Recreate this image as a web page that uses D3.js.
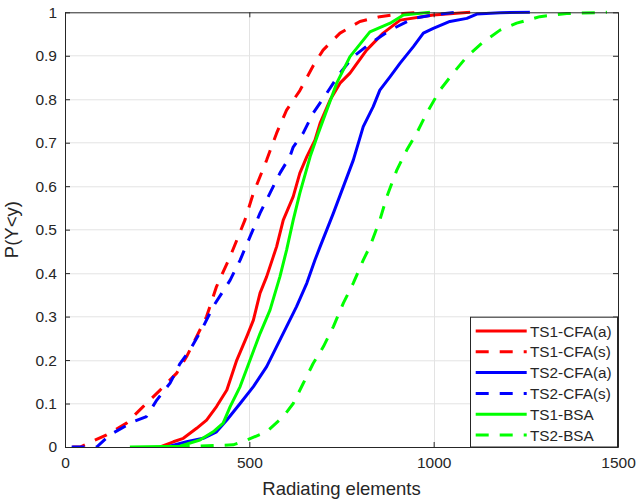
<!DOCTYPE html>
<html>
<head>
<meta charset="utf-8">
<script src="https://cdn.jsdelivr.net/npm/d3@7/dist/d3.min.js"></script>
<style>
  body { margin: 0; background: #fff; }
  svg { display: block; }
  text { font-family: "Liberation Sans", Arial, Helvetica, sans-serif; fill: #262626; }
</style>
</head>
<body>
<svg id="chart" width="636" height="500"></svg>
<script>
// ---------- data ----------
const xTicks = [0, 500, 1000, 1500];
const yTicks = [0, 0.1, 0.2, 0.3, 0.4, 0.5, 0.6, 0.7, 0.8, 0.9, 1];
const yTickLabels = ["0", "0.1", "0.2", "0.3", "0.4", "0.5", "0.6", "0.7", "0.8", "0.9", "1"];
const xLabel = "Radiating elements";
const yLabel = "P(Y<y)";

const seriesNames = ["TS1-CFA(a)", "TS1-CFA(s)", "TS2-CFA(a)", "TS2-CFA(s)", "TS1-BSA", "TS2-BSA"];
const seriesColors = ["#ff0000", "#ff0000", "#0000ff", "#0000ff", "#00ff00", "#00ff00"];
const seriesDashed = [false, true, false, true, false, true];

const ts1CfaA_x = [258, 294, 321, 357, 384, 411, 439, 466, 493, 511, 529, 547, 565, 574, 592, 619, 637, 656, 678, 692, 719, 746, 773, 818, 863, 909, 999, 1099];
const ts1CfaA_y = [0, 0.012, 0.02, 0.043, 0.062, 0.093, 0.131, 0.2, 0.254, 0.292, 0.354, 0.392, 0.438, 0.461, 0.522, 0.576, 0.63, 0.668, 0.706, 0.745, 0.798, 0.837, 0.86, 0.913, 0.952, 0.982, 0.994, 1.0];

const ts1CfaS_x = [20, 41, 113, 167, 212, 258, 303, 330, 357, 384, 411, 448, 488, 511, 547, 574, 601, 637, 674, 700, 746, 800, 854, 917, 960];
const ts1CfaS_y = [0, 0, 0.028, 0.055, 0.093, 0.131, 0.17, 0.208, 0.254, 0.30, 0.369, 0.438, 0.522, 0.584, 0.66, 0.722, 0.775, 0.82, 0.878, 0.913, 0.952, 0.979, 0.99, 0.997, 1.0];

const ts2CfaA_x = [276, 330, 375, 411, 439, 475, 511, 547, 574, 601, 628, 656, 678, 692, 728, 755, 782, 809, 836, 854, 882, 909, 945, 972, 999, 1044, 1090, 1117, 1180, 1261];
const ts2CfaA_y = [0, 0.012, 0.02, 0.035, 0.062, 0.1, 0.139, 0.185, 0.231, 0.277, 0.323, 0.377, 0.43, 0.461, 0.538, 0.599, 0.66, 0.737, 0.783, 0.821, 0.852, 0.883, 0.921, 0.952, 0.963, 0.979, 0.986, 0.996, 0.999, 1.0];

const ts2CfaS_x = [18, 86, 122, 185, 221, 249, 285, 312, 339, 375, 402, 448, 475, 502, 529, 556, 583, 610, 619, 646, 673, 710, 746, 782, 827, 882, 945, 999, 1060];
const ts2CfaS_y = [0, 0, 0.028, 0.058, 0.07, 0.108, 0.147, 0.192, 0.223, 0.277, 0.323, 0.384, 0.43, 0.484, 0.538, 0.584, 0.63, 0.668, 0.69, 0.722, 0.768, 0.814, 0.86, 0.898, 0.928, 0.959, 0.986, 0.994, 1.0];

const ts1Bsa_x = [176, 312, 366, 402, 429, 448, 475, 502, 529, 556, 583, 601, 619, 637, 665, 687, 710, 737, 773, 827, 882, 918, 990];
const ts1Bsa_y = [0, 0.002, 0.016, 0.035, 0.055, 0.093, 0.139, 0.2, 0.261, 0.315, 0.392, 0.453, 0.522, 0.584, 0.668, 0.722, 0.775, 0.837, 0.898, 0.955, 0.975, 0.994, 1.0];

const ts2Bsa_x = [303, 456, 493, 547, 592, 619, 646, 673, 701, 728, 755, 782, 809, 827, 854, 873, 900, 927, 954, 981, 1017, 1053, 1090, 1135, 1180, 1225, 1288, 1361, 1470];
const ts2Bsa_y = [0, 0.005, 0.016, 0.035, 0.07, 0.1, 0.146, 0.192, 0.231, 0.277, 0.331, 0.377, 0.43, 0.461, 0.522, 0.576, 0.637, 0.683, 0.722, 0.768, 0.821, 0.86, 0.898, 0.932, 0.959, 0.975, 0.99, 0.997, 1.0];

const seriesX = [ts1CfaA_x, ts1CfaS_x, ts2CfaA_x, ts2CfaS_x, ts1Bsa_x, ts2Bsa_x];
const seriesY = [ts1CfaA_y, ts1CfaS_y, ts2CfaA_y, ts2CfaS_y, ts1Bsa_y, ts2Bsa_y];

// ---------- layout ----------
const W = 636, H = 500;
const margin = { left: 65, top: 12.3, right: 636 - 618, bottom: 500 - 447 };
const pw = W - margin.left - margin.right;
const ph = H - margin.top - margin.bottom;
const axisColor = "#262626";
const dash = "13,11";

const svg = d3.select("#chart");
const g = svg.append("g").attr("transform", `translate(${margin.left},${margin.top})`);

const x = d3.scaleLinear().domain([0, 1500]).range([0, pw]);
const y = d3.scaleLinear().domain([0, 1]).range([ph, 0]);

// background
g.append("rect").attr("width", pw).attr("height", ph).attr("fill", "#fff");

// grid
g.append("g").selectAll("line").data(yTicks.slice(1, -1)).join("line")
  .attr("x1", 0).attr("x2", pw)
  .attr("y1", d => Math.round(y(d)) + 0.5).attr("y2", d => Math.round(y(d)) + 0.5)
  .attr("stroke", "#e3e3e3").attr("stroke-width", 1);
g.append("g").selectAll("line").data(xTicks.slice(1, -1)).join("line")
  .attr("y1", 0).attr("y2", ph)
  .attr("x1", d => Math.round(x(d)) + 0.5).attr("x2", d => Math.round(x(d)) + 0.5)
  .attr("stroke", "#e3e3e3").attr("stroke-width", 1);

// clip
svg.append("defs").append("clipPath").attr("id", "clip")
  .append("rect").attr("x", 0).attr("y", -2).attr("width", pw).attr("height", ph + 2);

const line = d3.line().x(d => x(d[0])).y(d => y(d[1]));
const curves = g.append("g").attr("clip-path", "url(#clip)");
seriesNames.forEach((name, i) => {
  const pts = seriesX[i].map((v, k) => [v, seriesY[i][k]]);
  curves.append("path")
    .datum(pts)
    .attr("d", line)
    .attr("fill", "none")
    .attr("stroke", seriesColors[i])
    .attr("stroke-width", 3)
    .attr("stroke-linejoin", "round")
    .attr("stroke-dasharray", seriesDashed[i] ? dash : null);
});

// axes (inward ticks, box)
const tickLen = 5;
const axB = g.append("g").attr("transform", `translate(0,${ph})`)
  .call(d3.axisBottom(x).tickValues(xTicks).tickSizeInner(-tickLen).tickSizeOuter(0).tickPadding(10).tickFormat(d3.format("d")));
const axT = g.append("g")
  .call(d3.axisTop(x).tickValues(xTicks).tickSizeInner(-tickLen).tickSizeOuter(0).tickFormat(""));
const axL = g.append("g")
  .call(d3.axisLeft(y).tickValues(yTicks).tickSizeInner(-tickLen).tickSizeOuter(0).tickPadding(8).tickFormat((d, i) => yTickLabels[i]));
const axR = g.append("g").attr("transform", `translate(${pw},0)`)
  .call(d3.axisRight(y).tickValues(yTicks).tickSizeInner(-tickLen).tickSizeOuter(0).tickFormat(""));
[axB, axT, axL, axR].forEach(a => {
  a.selectAll("path.domain").attr("stroke", axisColor).attr("stroke-width", 1);
  a.selectAll(".tick line").attr("stroke", axisColor).attr("stroke-width", 1);
  a.selectAll("text").attr("font-size", "15.5px").attr("fill", axisColor)
    .style("font-family", '"Liberation Sans", Arial, sans-serif');
});

// axis labels
svg.append("text")
  .attr("x", margin.left + pw / 2).attr("y", 495)
  .attr("text-anchor", "middle").attr("font-size", "18.5px")
  .text(xLabel);
svg.append("text")
  .attr("transform", `translate(18,${margin.top + ph / 2}) rotate(-90)`)
  .attr("text-anchor", "middle").attr("font-size", "18.5px")
  .text(yLabel);

// legend
const lg = svg.append("g");
const lx0 = 470, ly0 = 316.7, lx1 = 618, ly1 = 447;
lg.append("rect").attr("x", lx0 + 0.5).attr("y", ly0 + 0.5)
  .attr("width", lx1 - lx0 - 1).attr("height", ly1 - ly0 - 0.5)
  .attr("fill", "#fff").attr("stroke", axisColor).attr("stroke-width", 1);
const rowY = d3.scaleLinear().domain([0, 5]).range([331, 435]);
seriesNames.forEach((name, i) => {
  const yy = rowY(i);
  lg.append("line")
    .attr("x1", 475.7).attr("x2", 526.7).attr("y1", yy).attr("y2", yy)
    .attr("stroke", seriesColors[i]).attr("stroke-width", 3)
    .attr("stroke-dasharray", seriesDashed[i] ? dash : null);
  lg.append("text")
    .attr("x", 530).attr("y", yy + 5.5)
    .attr("font-size", "15.3px")
    .text(name);
});
</script>
</body>
</html>
